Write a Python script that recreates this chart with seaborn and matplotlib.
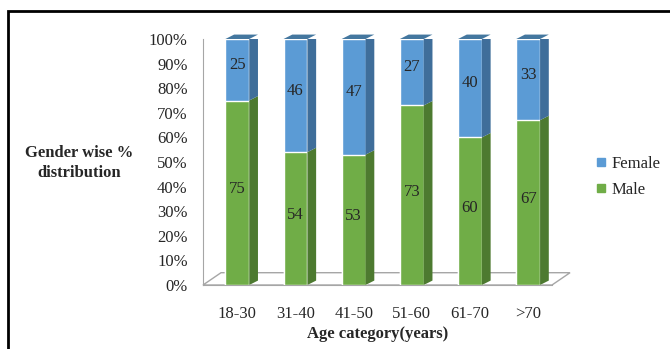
import numpy as np
import pandas as pd
import matplotlib
matplotlib.use("Agg")
import matplotlib.pyplot as plt
from matplotlib.patches import Polygon, Rectangle
from matplotlib.lines import Line2D
import seaborn as sns

categories = ["18-30", "31-40", "41-50", "51-60", "61-70", ">70"]
male = [75, 54, 53, 73, 60, 67]
female = [25, 46, 47, 27, 40, 33]
yticks = [0, 10, 20, 30, 40, 50, 60, 70, 80, 90, 100]

sns.set_style("white")
plt.rcParams["font.family"] = ["Liberation Serif", "DejaVu Serif"]
plt.rcParams["font.size"] = 12

BLUE = "#5B9BD5"
BLUE_SIDE = "#3F6E9A"
BLUE_TOP = "#44779F"
GREEN = "#70AD47"
GREEN_SIDE = "#4D7A30"

df = pd.DataFrame({"cat": categories, "male": male,
                   "total": [m + f for m, f in zip(male, female)]})

fig = plt.figure(figsize=(6.7, 3.49), dpi=100)
Y0, Y100 = 285, 39
ax = fig.add_axes([203 / 670, (349 - Y0) / 349, 349 / 670, (Y0 - Y100) / 349])

BW = 0.41
sns.barplot(data=df, x="cat", y="total", color=BLUE, saturation=1, width=BW, ax=ax, zorder=3)
sns.barplot(data=df, x="cat", y="male", color=GREEN, saturation=1, width=BW, ax=ax, zorder=4)

shift = 0.09
ax.set_xlim(-0.5 - shift, 5.5 - shift)
ax.set_ylim(0, 100)

DX, DY = 0.15, 1.8
n = len(categories)
tot_patches = ax.patches[:n]
for i, p in enumerate(tot_patches):
    xl = p.get_x()
    xr = xl + p.get_width()
    m = male[i]
    t = m + female[i]
    ax.add_patch(Polygon([(xr, 0), (xr + DX, DY), (xr + DX, m + DY), (xr, m)],
                         closed=True, facecolor=GREEN_SIDE, edgecolor="none", zorder=5))
    ax.add_patch(Polygon([(xr, m), (xr + DX, m + DY), (xr + DX, t + DY), (xr, t)],
                         closed=True, facecolor=BLUE_SIDE, edgecolor="none", zorder=5))
    ax.add_patch(Polygon([(xl, t), (xl + DX, t + DY), (xr + DX, t + DY), (xr, t)],
                         closed=True, facecolor=BLUE_TOP, edgecolor="none", zorder=5,
                         clip_on=False))
    cx = xl + p.get_width() / 2
    ax.text(cx, t - female[i] / 2 + 2, str(female[i]), ha="center", va="center",
            fontsize=12, zorder=6)
    ax.text(cx, m / 2 + 1.5, str(m), ha="center", va="center", fontsize=12, zorder=6)

# floor
FX, FY = 0.31, 5.0
x0, x1 = -0.5 - shift, 5.5 - shift
ax.add_patch(Polygon([(x0, 0), (x1, 0), (x1 + FX, FY), (x0 + FX, FY)], closed=True,
                     facecolor="white", edgecolor="#A6A6A6", linewidth=1.0, zorder=1,
                     clip_on=False))

for s in ["top", "right"]:
    ax.spines[s].set_visible(False)
ax.spines["left"].set_color("#A6A6A6")
ax.spines["bottom"].set_color("#A6A6A6")
ax.spines["left"].set_zorder(2)

ax.set_yticks(yticks)
ax.set_yticklabels([f"{v}%" for v in yticks])
ax.tick_params(axis="y", which="major", length=5, color="#A6A6A6", direction="out",
               labelsize=12, pad=6)
ax.set_xticks(np.arange(n))
ax.set_xticklabels(categories)
ax.set_xticks(np.arange(n + 1) - 0.5 - shift, minor=True)
ax.tick_params(axis="x", which="major", length=0, labelsize=12, pad=15)
ax.tick_params(axis="x", which="minor", length=5, color="#A6A6A6", direction="out")
ax.set_xlabel("")
ax.set_ylabel("")
ax.grid(False)

fig.text(378 / 670, 1 - 334 / 349, "Age category(years)", ha="center", va="center",
         fontsize=12, fontweight="bold")
fig.text(79 / 670, 1 - 163 / 349, "Gender wise %\ndistribution", ha="center", va="center",
         fontsize=12, fontweight="bold", linespacing=1.3)

handles = [Line2D([], [], marker="s", linestyle="none", markersize=6, color=BLUE),
           Line2D([], [], marker="s", linestyle="none", markersize=6, color=GREEN)]
fig.legend(handles, ["Female", "Male"], loc="center left",
           bbox_to_anchor=(578 / 670, 1 - 177 / 349), frameon=False, fontsize=12,
           handletextpad=0.1, labelspacing=0.6, handlelength=1.0)

# outer frame (left and top visible)
fig.add_artist(Rectangle((8 / 670, -0.1), 1.2, 1 - 11 / 349 + 0.1, transform=fig.transFigure,
                         fill=False, edgecolor="black", linewidth=2))

fig.savefig("out.png", dpi=100)
